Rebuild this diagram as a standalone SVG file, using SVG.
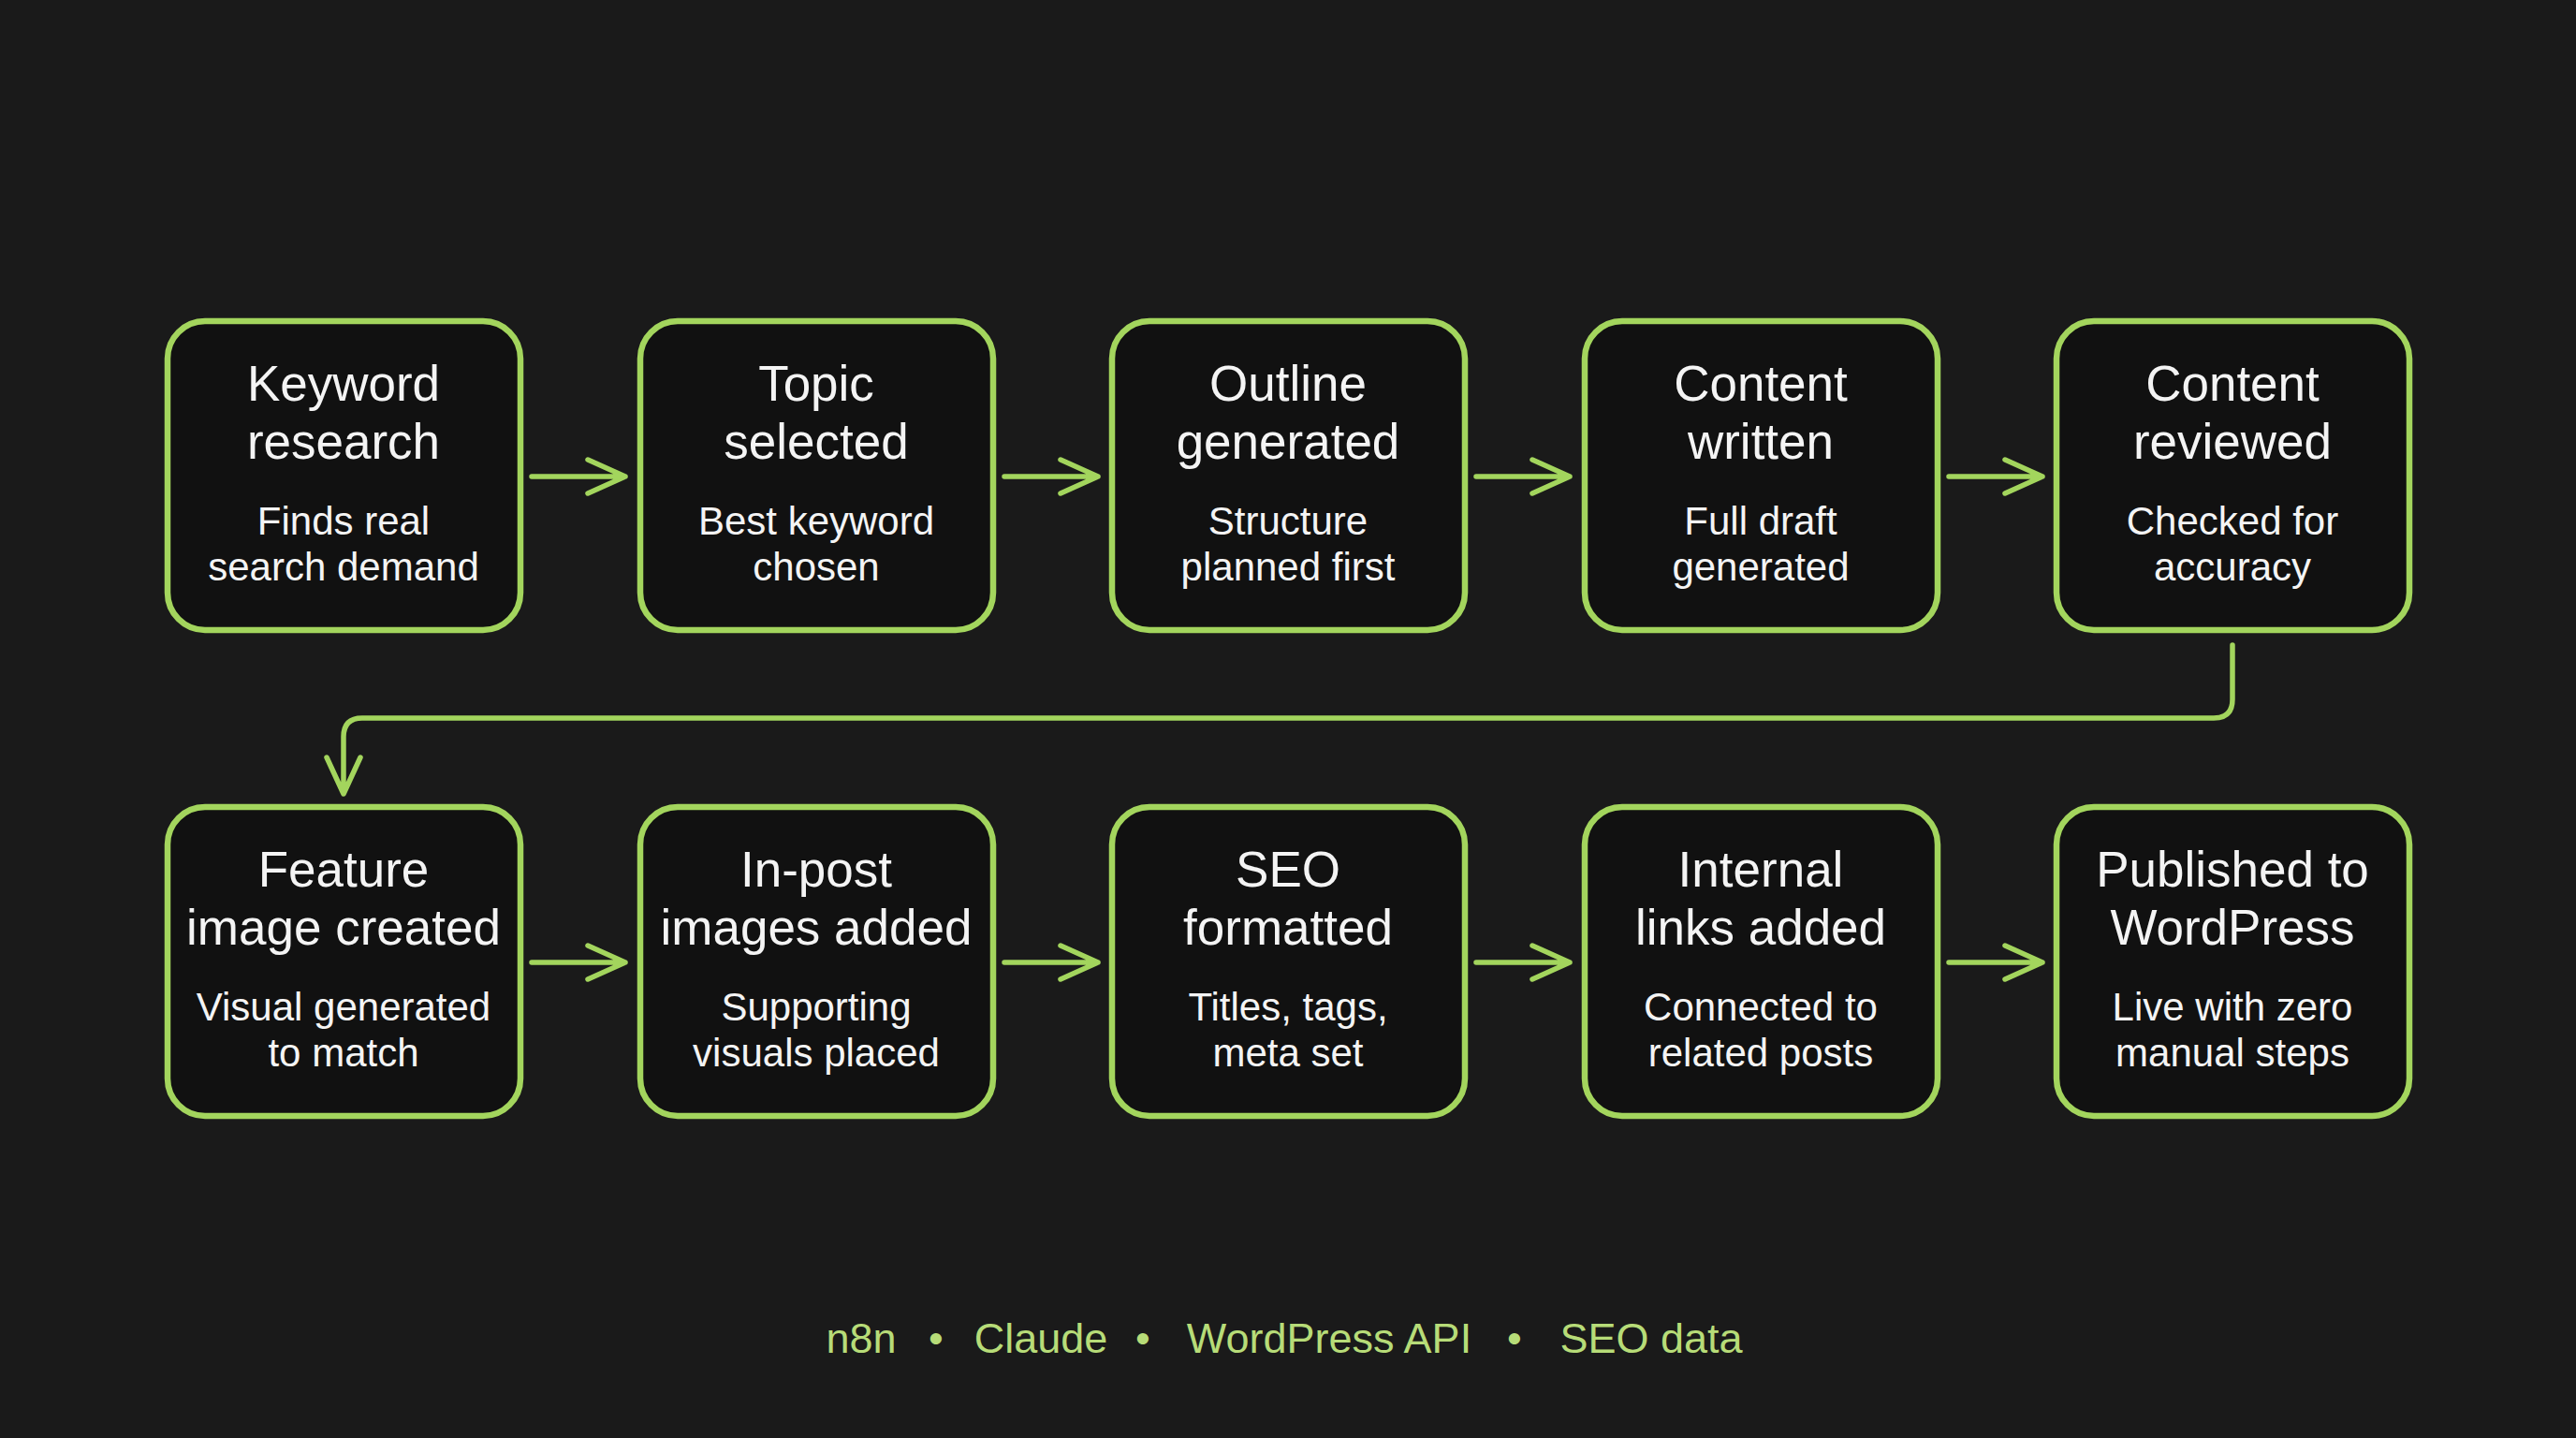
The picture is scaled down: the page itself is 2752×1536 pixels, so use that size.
<svg xmlns="http://www.w3.org/2000/svg" width="2752" height="1536" viewBox="0 0 2752 1536">
<defs>
<style>
.box{fill:#111111;stroke:#a3d55d;stroke-width:6.5}
.t{font-family:"Liberation Sans",Arial,sans-serif;fill:#f4f4f4;text-anchor:middle}
.h{font-size:53px}
.s{font-size:42px}
.c{fill:none;stroke:#a3d55d;stroke-width:5.5;stroke-linecap:round;stroke-linejoin:round}
.f{font-family:"Liberation Sans",Arial,sans-serif;fill:#b7dc78;font-size:45px;text-anchor:middle}
</style>
</defs>
<rect width="2752" height="1536" fill="#1a1a1a"/>
<g id="connectors">
<path class="c" d="M568 509H668M628 491L668 509L628 527"/>
<path class="c" d="M1073 509H1173M1133 491L1173 509L1133 527"/>
<path class="c" d="M1577 509H1677M1637 491L1677 509L1637 527"/>
<path class="c" d="M2082 509H2182M2142 491L2182 509L2142 527"/>
<path class="c" d="M568 1028H668M628 1010L668 1028L628 1046"/>
<path class="c" d="M1073 1028H1173M1133 1010L1173 1028L1133 1046"/>
<path class="c" d="M1577 1028H1677M1637 1010L1677 1028L1637 1046"/>
<path class="c" d="M2082 1028H2182M2142 1010L2182 1028L2142 1046"/>
<path class="c" d="M2385 689V747Q2385 767 2365 767H387Q367 767 367 787V847M349 809L367 848L385 809"/>
</g>
<g id="n1"><rect class="box" x="179" y="343" width="377" height="330" rx="40"/>
<text class="t h" x="367" y="428">Keyword</text><text class="t h" x="367" y="490">research</text>
<text class="t s" x="367" y="571">Finds real</text><text class="t s" x="367" y="620">search demand</text></g>
<g id="n2"><rect class="box" x="684" y="343" width="377" height="330" rx="40"/>
<text class="t h" x="872" y="428">Topic</text><text class="t h" x="872" y="490">selected</text>
<text class="t s" x="872" y="571">Best keyword</text><text class="t s" x="872" y="620">chosen</text></g>
<g id="n3"><rect class="box" x="1188" y="343" width="377" height="330" rx="40"/>
<text class="t h" x="1376" y="428">Outline</text><text class="t h" x="1376" y="490">generated</text>
<text class="t s" x="1376" y="571">Structure</text><text class="t s" x="1376" y="620">planned first</text></g>
<g id="n4"><rect class="box" x="1693" y="343" width="377" height="330" rx="40"/>
<text class="t h" x="1881" y="428">Content</text><text class="t h" x="1881" y="490">written</text>
<text class="t s" x="1881" y="571">Full draft</text><text class="t s" x="1881" y="620">generated</text></g>
<g id="n5"><rect class="box" x="2197" y="343" width="377" height="330" rx="40"/>
<text class="t h" x="2385" y="428">Content</text><text class="t h" x="2385" y="490">reviewed</text>
<text class="t s" x="2385" y="571">Checked for</text><text class="t s" x="2385" y="620">accuracy</text></g>
<g id="n6"><rect class="box" x="179" y="862" width="377" height="330" rx="40"/>
<text class="t h" x="367" y="947">Feature</text><text class="t h" x="367" y="1009">image created</text>
<text class="t s" x="367" y="1090">Visual generated</text><text class="t s" x="367" y="1139">to match</text></g>
<g id="n7"><rect class="box" x="684" y="862" width="377" height="330" rx="40"/>
<text class="t h" x="872" y="947">In-post</text><text class="t h" x="872" y="1009">images added</text>
<text class="t s" x="872" y="1090">Supporting</text><text class="t s" x="872" y="1139">visuals placed</text></g>
<g id="n8"><rect class="box" x="1188" y="862" width="377" height="330" rx="40"/>
<text class="t h" x="1376" y="947">SEO</text><text class="t h" x="1376" y="1009">formatted</text>
<text class="t s" x="1376" y="1090">Titles, tags,</text><text class="t s" x="1376" y="1139">meta set</text></g>
<g id="n9"><rect class="box" x="1693" y="862" width="377" height="330" rx="40"/>
<text class="t h" x="1881" y="947">Internal</text><text class="t h" x="1881" y="1009">links added</text>
<text class="t s" x="1881" y="1090">Connected to</text><text class="t s" x="1881" y="1139">related posts</text></g>
<g id="n10"><rect class="box" x="2197" y="862" width="377" height="330" rx="40"/>
<text class="t h" x="2385" y="947">Published to</text><text class="t h" x="2385" y="1009">WordPress</text>
<text class="t s" x="2385" y="1090">Live with zero</text><text class="t s" x="2385" y="1139">manual steps</text></g>
<g id="footer">
<text class="f" y="1445"><tspan x="920">n8n</tspan><tspan x="1000">•</tspan><tspan x="1112">Claude</tspan><tspan x="1221">•</tspan><tspan x="1420">WordPress API</tspan><tspan x="1618">•</tspan><tspan x="1764">SEO data</tspan></text>
</g>
</svg>
